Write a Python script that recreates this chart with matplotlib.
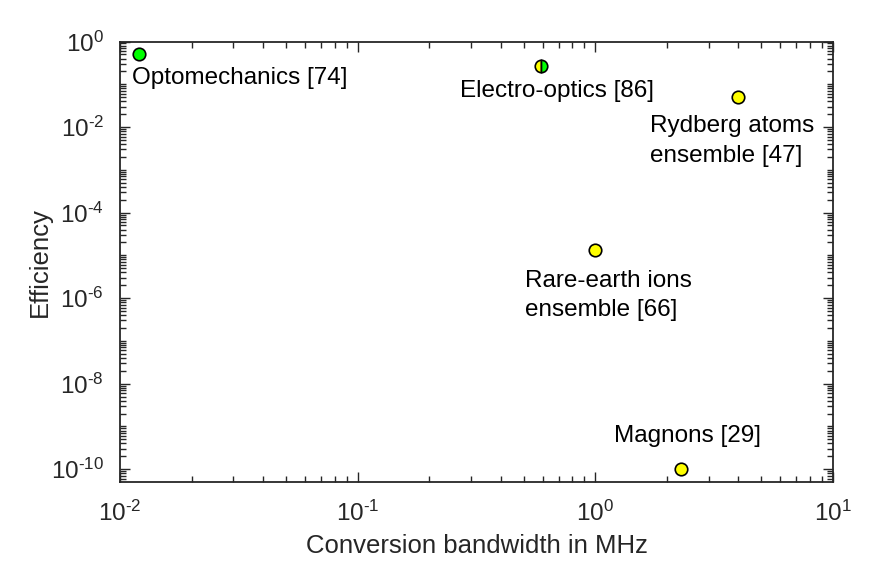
import numpy as np
import matplotlib
matplotlib.use("Agg")
import matplotlib.pyplot as plt
from matplotlib.ticker import LogLocator, FixedLocator, NullFormatter, FuncFormatter

plt.rcParams['font.family'] = ['Liberation Sans', 'DejaVu Sans']
plt.rcParams['mathtext.fontset'] = 'custom'
plt.rcParams['mathtext.rm'] = 'Liberation Sans'
plt.rcParams['mathtext.it'] = 'Liberation Sans'

# data
names = ["Optomechanics [74]", "Electro-optics [86]", "Rydberg atoms\nensemble [47]",
         "Rare-earth ions\nensemble [66]", "Magnons [29]"]
bandwidth = [0.012, 0.59, 4.0, 1.0, 2.3]          # MHz
efficiency = [0.51, 0.27, 0.051, 1.3e-5, 1.0e-10]
face = ["#00ff00", "#ffff00", "#ffff00", "#ffff00", "#ffff00"]
face_alt = [None, "#00ff00", None, None, None]
# label offsets in pixels from marker (left edge, vertical centre)
offsets = [(-7, -24), (-81, -25), (-88, -44), (-70, -45), (-67, 33)]
y_ticks = [1e-10, 1e-8, 1e-6, 1e-4, 1e-2, 1e0]


def pow10(v, pos):
    e = int(round(np.log10(v)))
    if e < 0:
        return r'$\mathdefault{10^{\text{-}%d}}$' % (-e)
    return r'$\mathdefault{10^{%d}}$' % e


fig = plt.figure(figsize=(8.72, 5.71), dpi=100)
ax = fig.add_axes([120 / 872, 1 - 482 / 571, (833 - 120) / 872, (482 - 41.5) / 571])

for x, y, fc, fca in zip(bandwidth, efficiency, face, face_alt):
    if fca is None:
        ax.plot(x, y, 'o', ms=9, mfc=fc, mec='k', mew=1.2)
    else:
        ax.plot(x, y, 'o', ms=9, mfc=fc, mfcalt=fca, fillstyle='left', mec='k', mew=1.2)

for x, y, name, off in zip(bandwidth, efficiency, names, offsets):
    ax.annotate(name, (x, y), xytext=(off[0] * 0.72, off[1] * 0.72),
                textcoords='offset points', ha='left', va='center',
                fontsize=17.5, linespacing=1.45, color='k')

ax.set_xscale('log')
ax.set_yscale('log')
ax.set_xlim(1e-2, 1e1)
ax.set_ylim(10 ** -10.3, 1.0)

ax.yaxis.set_major_locator(FixedLocator(y_ticks))
ax.yaxis.set_minor_locator(LogLocator(base=10, subs=np.arange(1, 10), numticks=30))
ax.yaxis.set_minor_formatter(NullFormatter())
ax.xaxis.set_minor_locator(LogLocator(base=10, subs=np.arange(2, 10), numticks=30))
ax.xaxis.set_minor_formatter(NullFormatter())
ax.xaxis.set_major_formatter(FuncFormatter(pow10))
ax.yaxis.set_major_formatter(FuncFormatter(pow10))

ax.tick_params(which='both', direction='in', top=True, right=True,
               colors='#262626', labelsize=17.5, width=1.0)
ax.tick_params(which='major', length=7)
ax.tick_params(axis='x', which='major', pad=13.5)
ax.tick_params(axis='y', which='major', pad=11.5)
ax.tick_params(which='minor', length=4)
for s in ax.spines.values():
    s.set_linewidth(1.3)
    s.set_color('#262626')

ax.set_xlabel('Conversion bandwidth in MHz', fontsize=18.5, color='#262626', labelpad=5.5)
ax.set_ylabel('Efficiency', fontsize=18.5, color='#262626')
ax.yaxis.set_label_coords(-80 / 713, 0.5)
ax.yaxis.label.set_verticalalignment('center')

fig.savefig("out.png", dpi=100)
